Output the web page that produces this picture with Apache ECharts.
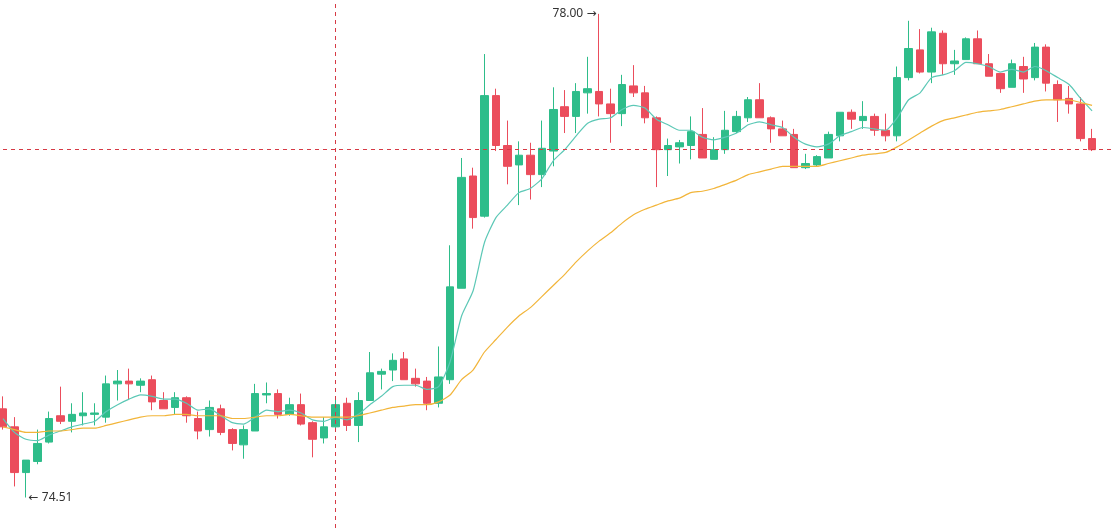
<!DOCTYPE html>
<html style="height: 100%">
<head>
    <meta charset="utf-8">
</head>
<body style="height: 100%; margin: 0; background-color: #fff">
<div id="container" style="height: 528px; width: 1115px"></div>
<script type="text/javascript" src="https://cdn.jsdelivr.net/npm/echarts/dist/echarts.min.js"></script>
<script type="text/javascript">
var opens = [75.15,75.02,74.69,74.77,74.91,75.10,75.06,75.10,75.11,75.09,
    75.33,75.35,75.32,75.36,75.21,75.16,75.23,75.08,75.00,75.15,
    75.00,74.89,74.99,75.25,75.26,75.11,75.18,75.05,74.94,75.02,
    75.19,75.03,75.21,75.40,75.43,75.51,75.37,75.35,75.19,75.36,
    76.02,76.83,76.54,77.41,77.05,76.91,76.98,76.84,77.01,77.33,
    77.26,77.43,77.44,77.35,77.28,77.48,77.43,77.25,77.02,77.04,
    77.05,77.13,76.95,77.02,77.15,77.25,77.38,77.25,77.17,77.13,
    76.89,76.91,76.96,77.12,77.29,77.23,77.26,77.16,77.12,77.54,
    77.74,77.58,77.86,77.64,77.67,77.82,77.64,77.57,77.47,77.62,
    77.54,77.76,77.49,77.39,77.35,77.10];
var closes = [75.02,74.69,74.78,74.90,75.08,75.06,75.11,75.12,75.12,75.33,
    75.35,75.33,75.35,75.20,75.15,75.23,75.10,74.99,75.16,74.98,
    74.90,75.00,75.26,75.26,75.11,75.18,75.04,74.93,75.02,75.18,
    75.03,75.21,75.41,75.42,75.50,75.36,75.33,75.19,75.38,76.03,
    76.82,76.53,77.41,77.05,76.90,76.98,76.84,77.03,77.31,77.26,
    77.44,77.46,77.35,77.28,77.49,77.43,77.25,77.02,77.05,77.07,
    77.15,76.96,77.02,77.16,77.26,77.38,77.25,77.17,77.12,76.89,
    76.92,76.97,77.13,77.29,77.24,77.26,77.16,77.12,77.54,77.75,
    77.58,77.87,77.64,77.66,77.82,77.64,77.55,77.46,77.64,77.53,
    77.76,77.50,77.38,77.35,77.10,77.02];
var lows = [75.00,74.59,74.51,74.75,74.90,75.04,74.98,75.03,75.03,75.05,
    75.21,75.22,75.27,75.14,75.15,75.11,75.05,74.93,74.95,74.96,
    74.85,74.79,74.99,75.19,75.08,75.10,75.03,74.80,74.90,75.01,
    74.99,74.91,75.21,75.29,75.35,75.36,75.31,75.14,75.16,75.33,
    76.02,76.45,76.53,77.01,76.77,76.62,76.66,76.75,76.90,77.14,
    77.14,77.28,77.26,77.07,77.19,77.40,77.21,76.75,76.83,76.92,
    76.95,76.96,76.95,76.99,77.14,77.22,77.25,77.07,77.12,76.89,
    76.88,76.90,76.96,77.08,77.17,77.17,77.12,77.08,77.08,77.52,
    77.57,77.50,77.56,77.56,77.67,77.64,77.55,77.43,77.47,77.43,
    77.52,77.44,77.22,77.28,77.08,77.01];
var highs = [75.24,75.09,74.78,75.00,75.13,75.31,75.19,75.27,75.19,75.39,
    75.43,75.44,75.37,75.39,75.27,75.27,75.24,75.13,75.21,75.18,
    75.01,75.03,75.33,75.34,75.29,75.23,75.26,75.06,75.09,75.24,
    75.23,75.27,75.56,75.44,75.55,75.56,75.44,75.38,75.60,76.33,
    76.96,76.89,77.71,77.46,77.23,77.08,77.07,77.23,77.47,77.45,
    77.50,77.69,78.00,77.46,77.56,77.63,77.48,77.26,77.10,77.09,
    77.26,77.32,77.11,77.30,77.30,77.40,77.50,77.26,77.23,77.17,
    76.99,76.98,77.15,77.29,77.31,77.37,77.28,77.28,77.62,77.95,
    77.89,77.90,77.88,77.74,77.83,77.88,77.71,77.57,77.67,77.69,
    77.79,77.78,77.52,77.48,77.40,77.17];
// short and long average lines
var ema7 = [75.08,74.98,74.93,74.92,74.96,74.99,75.02,75.04,75.06,75.13,
    75.18,75.22,75.25,75.24,75.22,75.22,75.19,75.14,75.15,75.10,
    75.05,75.04,75.09,75.14,75.13,75.14,75.12,75.07,75.06,75.09,
    75.07,75.11,75.18,75.24,75.31,75.32,75.32,75.29,75.31,75.49,
    75.82,76.00,76.35,76.53,76.62,76.71,76.74,76.81,76.94,77.02,
    77.12,77.21,77.24,77.25,77.31,77.34,77.32,77.24,77.20,77.16,
    77.16,77.11,77.09,77.11,77.14,77.20,77.22,77.20,77.18,77.11,
    77.06,77.04,77.06,77.12,77.15,77.18,77.17,77.16,77.25,77.38,
    77.43,77.54,77.56,77.59,77.65,77.64,77.62,77.58,77.60,77.58,
    77.62,77.59,77.54,77.49,77.39,77.30];
var ema30 = [75.02,75.00,74.98,74.98,74.99,74.99,75.00,75.01,75.01,75.03,
    75.05,75.07,75.09,75.10,75.10,75.11,75.11,75.10,75.10,75.10,
    75.08,75.08,75.09,75.10,75.10,75.11,75.10,75.09,75.09,75.09,
    75.09,75.10,75.12,75.14,75.16,75.17,75.18,75.18,75.20,75.25,
    75.36,75.43,75.56,75.65,75.74,75.82,75.88,75.96,76.04,76.12,
    76.21,76.29,76.36,76.42,76.49,76.55,76.59,76.62,76.65,76.67,
    76.71,76.72,76.74,76.77,76.80,76.84,76.86,76.88,76.90,76.90,
    76.90,76.90,76.92,76.94,76.96,76.98,76.99,77.00,77.04,77.09,
    77.14,77.19,77.23,77.25,77.27,77.29,77.30,77.31,77.33,77.35,
    77.37,77.38,77.38,77.38,77.36,77.34];
var cats = opens.map(function (v, i) { return String(i); });
var crossIndex = 29;

var upColor = '#2EBD8A';
var downColor = '#EB4D5C';
var guideStyle = {color: '#d63a45', type: [4, 4], width: 1, opacity: 1};

var kdata = opens.map(function (o, i) {
    return [o, closes[i], lows[i], highs[i]];
});

var textRich = {
    n: {fontSize: 12, fontFamily: 'Noto Sans', color: '#333'},
    a: {fontSize: 12, fontFamily: 'DejaVu Sans', color: '#333'}
};

var dom = document.getElementById("container");
var myChart = echarts.init(dom);
var option = {
    animation: false,
    backgroundColor: '#fff',
    grid: {left: 3, right: 0, top: 0, bottom: 0},
    xAxis: {
        type: 'category',
        data: cats,
        boundaryGap: false,
        max: 97,
        show: false
    },
    yAxis: {
        type: 'value',
        min: 74.29,
        max: 78.10,
        show: false,
        splitLine: {show: false}
    },
    series: [
        {
            // guide lines: last close and crosshair
            name: 'guide',
            type: 'line',
            data: [],
            z: 1,
            markLine: {
                silent: true,
                symbol: ['none', 'none'],
                label: {show: false},
                lineStyle: guideStyle,
                emphasis: {disabled: true},
                data: [
                    {yAxis: closes[closes.length - 1], lineStyle: guideStyle},
                    {xAxis: cats[crossIndex], lineStyle: guideStyle}
                ]
            }
        },
        {
            name: 'K',
            type: 'candlestick',
            data: kdata,
            barWidth: 8,
            z: 2,
            itemStyle: {
                color: upColor,
                color0: downColor,
                borderColor: upColor,
                borderColor0: downColor,
                borderWidth: 1
            },
            markPoint: {
                symbol: 'circle',
                symbolSize: 1,
                itemStyle: {color: 'rgba(0,0,0,0)'},
                label: {rich: textRich},
                data: [
                    {
                        type: 'max', valueDim: 'highest',
                        label: {
                            position: 'left', distance: 2,
                            formatter: function (p) { return '{n|' + p.value.toFixed(2) + '} {a|→}'; },
                            rich: textRich
                        }
                    },
                    {
                        type: 'min', valueDim: 'lowest',
                        label: {
                            position: 'right', distance: 2,
                            formatter: function (p) { return '{a|←} {n|' + p.value.toFixed(2) + '}'; },
                            rich: textRich
                        }
                    }
                ]
            }
        },
        {
            name: 'EMA7',
            type: 'line',
            data: ema7,
            z: 3,
            showSymbol: false,
            smooth: 0.2,
            lineStyle: {color: '#5CC8B6', width: 1.2}
        },
        {
            name: 'EMA30',
            type: 'line',
            data: ema30,
            z: 3,
            showSymbol: false,
            smooth: 0.2,
            lineStyle: {color: '#F2B53A', width: 1.2}
        }
    ]
};
myChart.setOption(option, true);
</script>
</body>
</html>
